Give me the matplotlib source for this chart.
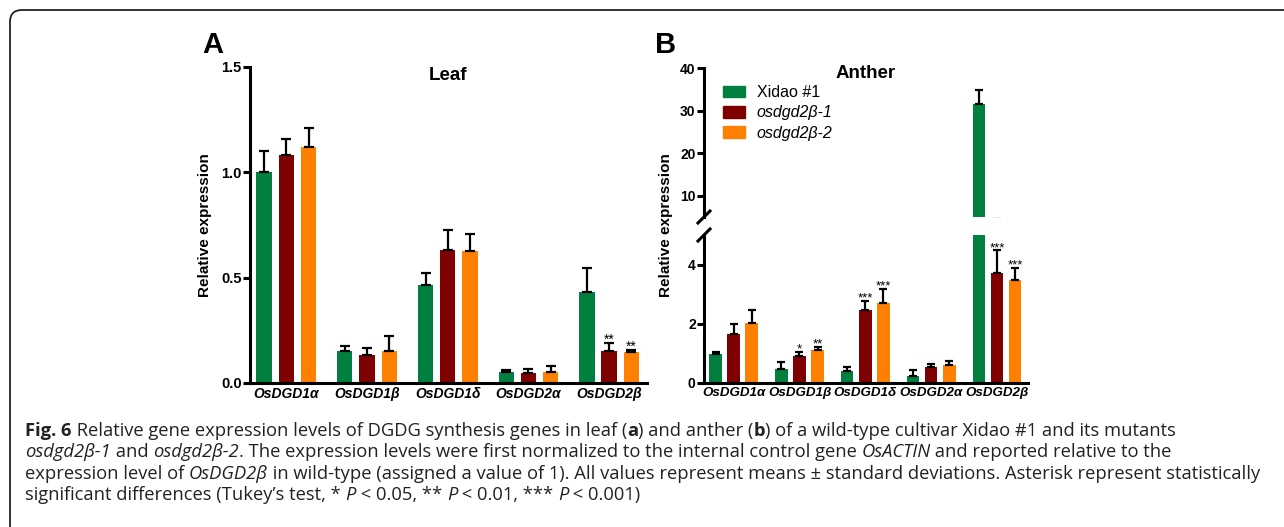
import numpy as np
import matplotlib
matplotlib.use('Agg')
import matplotlib.pyplot as plt
import matplotlib.patches as mpatches
from matplotlib.font_manager import FontProperties

plt.rcParams['font.family'] = ['Liberation Sans', 'DejaVu Sans']

genes = ['OsDGD1α', 'OsDGD1β', 'OsDGD1δ', 'OsDGD2α', 'OsDGD2β']
lines_names = ['Xidao #1', 'osdgd2β-1', 'osdgd2β-2']
colors = ['#007F3F', '#7F0000', '#FF8000']

# 叶片
leaf_wt = [1.00, 0.153, 0.467, 0.054, 0.434]
leaf_wt_sd = [0.10, 0.021, 0.053, 0.008, 0.110]
leaf_m1 = [1.084, 0.134, 0.633, 0.049, 0.153]
leaf_m1_sd = [0.074, 0.032, 0.093, 0.019, 0.035]
leaf_m2 = [1.122, 0.153, 0.628, 0.054, 0.146]
leaf_m2_sd = [0.090, 0.069, 0.081, 0.025, 0.011]
leaf_stars = [['', '', '', '', ''],
              ['', '', '', '', '**'],
              ['', '', '', '', '**']]

# 花药
anther_wt = [0.99, 0.48, 0.42, 0.25, 31.5]
anther_wt_sd = [0.07, 0.23, 0.13, 0.18, 3.3]
anther_m1 = [1.66, 0.92, 2.47, 0.55, 3.72]
anther_m1_sd = [0.34, 0.12, 0.31, 0.08, 0.76]
anther_m2 = [2.03, 1.12, 2.71, 0.62, 3.48]
anther_m2_sd = [0.44, 0.09, 0.47, 0.13, 0.42]
anther_stars = [['', '', '', '', ''],
                ['', '*', '***', '', '***'],
                ['', '**', '***', '', '***']]

W, H = 1284, 527
fig = plt.figure(figsize=(W / 100, H / 100), dpi=100)

offsets = [-0.275, 0, 0.275]
bar_w = 0.19
x = np.arange(len(genes))
LW = 2.2


def px_axes(left, top, width, height):
    return fig.add_axes([left / W, 1 - (top + height) / H, width / W, height / H])


def draw_bars(ax, means, sds, stars=None, cap=3.5, star_size=10):
    for k in range(3):
        ax.bar(x + offsets[k], means[k], bar_w, color=colors[k], zorder=2)
        ax.errorbar(x + offsets[k], means[k], yerr=[np.zeros(5), sds[k]], fmt='none',
                    ecolor='black', elinewidth=1.6, capsize=cap, capthick=1.6, zorder=3)
        if stars is not None:
            for i in range(5):
                if stars[k][i]:
                    ax.annotate(stars[k][i], xy=(x[i] + offsets[k], means[k][i] + sds[k][i]),
                                xytext=(0, -0.5), textcoords='offset points',
                                ha='center', va='baseline', fontsize=star_size)


def style_axis(ax, bottom=True, ysize=10.5, xsize=10):
    for s in ['top', 'right']:
        ax.spines[s].set_visible(False)
    ax.spines['left'].set_linewidth(LW)
    ax.spines['bottom'].set_linewidth(LW)
    ax.tick_params(axis='y', direction='out', length=5, width=LW, labelsize=ysize, pad=1)
    for lab in ax.get_yticklabels():
        lab.set_fontweight('bold')
    ax.set_xlim(-0.45, 4.47)
    if bottom:
        ax.set_xticks(x)
        ax.set_xticklabels(genes, fontsize=xsize, fontweight='bold', fontstyle='italic')
        ax.tick_params(axis='x', length=0, pad=3)
    else:
        ax.spines['bottom'].set_visible(False)
        ax.set_xticks([])


# A: Leaf
axA = px_axes(250, 67, 397, 316)
draw_bars(axA, [leaf_wt, leaf_m1, leaf_m2], [leaf_wt_sd, leaf_m1_sd, leaf_m2_sd], leaf_stars)
axA.set_ylim(0, 1.5)
axA.set_yticks([0.0, 0.5, 1.0, 1.5])
axA.set_yticklabels(['0.0', '0.5', '1.0', '1.5'])
style_axis(axA)
axA.text(2, 1.462, 'Leaf', ha='center', va='center', fontsize=13.5, fontweight='bold')

# B: Anther (断轴)
BL, BW = 704, 324
axB_lo = px_axes(BL, 235, BW, 148)
axB_hi = px_axes(BL, 68, BW, 149)
for ax in (axB_lo, axB_hi):
    draw_bars(ax, [anther_wt, anther_m1, anther_m2], [anther_wt_sd, anther_m1_sd, anther_m2_sd],
              anther_stars if ax is axB_lo else None, cap=2.8, star_size=9.5)
axB_lo.set_ylim(0, 5)
axB_lo.set_yticks([0, 2, 4])
axB_hi.set_ylim(5, 40)
axB_hi.set_yticks([10, 20, 30, 40])
style_axis(axB_lo, ysize=10, xsize=9.6)
style_axis(axB_hi, bottom=False, ysize=10)
axB_hi.text(2, 38.6, 'Anther', ha='center', va='center', fontsize=13.5, fontweight='bold')

dx, dy = 6 / BW, 6 / 148
axB_lo.plot([-dx, dx], [1 - dy, 1 + dy], transform=axB_lo.transAxes, color='black', lw=LW, clip_on=False)
dy2 = 6 / 149
axB_hi.plot([-dx, dx], [-dy2, dy2], transform=axB_hi.transAxes, color='black', lw=LW, clip_on=False)

handles = [mpatches.Patch(color=colors[k]) for k in range(3)]
leg = axB_hi.legend(handles, lines_names, loc='upper left', bbox_to_anchor=((BL + 19) / W, 1 - 85 / H),
                    bbox_transform=fig.transFigure, frameon=False, fontsize=11.5,
                    handlelength=1.35, handleheight=0.75, handletextpad=0.75,
                    labelspacing=0.33, borderpad=0, borderaxespad=0)
for t in leg.get_texts()[1:]:
    t.set_fontstyle('italic')

# 纵轴标题与面板字母
for xs in (205, 666):
    fig.text(xs / W, 1 - 225 / H, 'Relative expression', rotation=90, ha='center', va='center',
             fontsize=11, fontweight='bold')
fig.text(213 / W, 1 - 45 / H, 'A', ha='center', va='center', fontsize=21, fontweight='bold')
fig.text(666 / W, 1 - 45 / H, 'B', ha='center', va='center', fontsize=21, fontweight='bold')

# 外框
frame = mpatches.FancyBboxPatch((10, -30), 1400, H - 10 + 30,
                                boxstyle='round,pad=0,rounding_size=12',
                                transform=None, facecolor='none', edgecolor='#222222', lw=1.3)
fig.patches.append(frame)

# 图注
caption = [
    [('Fig. 6', 'b'), (' Relative gene expression levels of DGDG synthesis genes in leaf (', 'n'), ('a', 'b'),
     (') and anther (', 'n'), ('b', 'b'), (') of a wild-type cultivar Xidao #1 and its mutants', 'n')],
    [('osdgd2β-1', 'i'), (' and ', 'n'), ('osdgd2β-2', 'i'),
     ('. The expression levels were first normalized to the internal control gene ', 'n'),
     ('OsACTIN', 'i'), (' and reported relative to the', 'n')],
    [('expression level of ', 'n'), ('OsDGD2β', 'i'),
     (' in wild-type (assigned a value of 1). All values represent means ± standard deviations. '
      'Asterisk represent statistically', 'n')],
    [('significant differences (Tukey’s test, * ', 'n'), ('P', 'i'), (' < 0.05, ** ', 'n'), ('P', 'i'),
     (' < 0.01, *** ', 'n'), ('P', 'i'), (' < 0.001)', 'n')],
]
baselines = [436, 457, 479, 500]

renderer = fig.canvas.get_renderer()


def fprop(style, size):
    fam = ['Open Sans', 'DejaVu Sans']
    if style == 'b':
        return FontProperties(family=fam, weight='bold', size=size)
    if style == 'i':
        return FontProperties(family=fam, style='italic', size=size)
    return FontProperties(family=fam, size=size)


def run_width(s, fp):
    w1 = renderer.get_text_width_height_descent('x' + s + 'x', fp, ismath=False)[0]
    w0 = renderer.get_text_width_height_descent('xx', fp, ismath=False)[0]
    return w1 - w0


base = 10
w3 = sum(run_width(s, fprop(st, base)) for s, st in caption[2])
cap_size = base * 1240 / w3

for runs, yb in zip(caption, baselines):
    xp = 25
    for s, st in runs:
        fp = fprop(st, cap_size)
        fig.text(xp / W, 1 - yb / H, s, fontproperties=fp, ha='left', va='baseline', color='#222222')
        xp += run_width(s, fp)

fig.savefig('out.png', dpi=100)
